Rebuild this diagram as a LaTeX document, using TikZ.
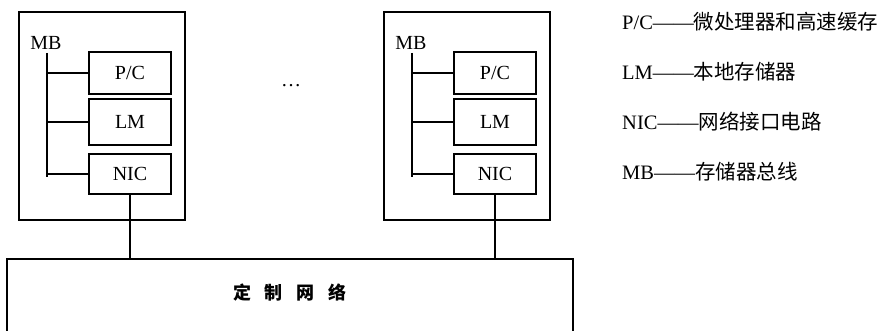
\documentclass[tikz,border=0pt]{standalone}
\usepackage{fontspec}
\setmainfont{Liberation Serif}
\newfontfamily\cjk{Noto Sans CJK SC}
\begin{document}
\begin{tikzpicture}[x=1pt,y=-1pt,
  ln/.style={line width=2pt},
  outerbox/.style={draw,ln,minimum width=166pt,minimum height=208pt,inner sep=0pt},
  unitbox/.style={draw,ln,minimum width=82pt,inner sep=0pt,font=\fontsize{20}{20}\selectfont},
  lbl/.style={inner sep=0pt,font=\fontsize{20}{20}\selectfont},
  legend/.style={anchor=west,inner sep=0pt,font=\fontsize{20.5}{20.5}\selectfont}]
\useasboundingbox (0,0) rectangle (885,331);
\clip (0,0) rectangle (885,331);
% network
\node[draw,ln,minimum width=566pt,minimum height=100pt,inner sep=0pt] (net) at (290,309) {};
\node[inner sep=0pt,font=\fontsize{18}{18}\selectfont\cjk\bfseries] (nettext) at (290,293) {定\hspace{14pt}制\hspace{14pt}网\hspace{14pt}络};
% units
\foreach \s/\n in {0/1,365/2}{
  \begin{scope}[xshift=\s pt]
    \node[outerbox] (outer\n) at (102,116) {};
    \node[unitbox,minimum height=42pt] (pc\n) at (130,73) {P/C};
    \node[unitbox,minimum height=46pt] (lm\n) at (130,122) {LM};
    \node[unitbox,minimum height=40pt] (nic\n) at (130,174) {NIC};
    \node[lbl] (mb\n) at (46,43) {MB};
    \coordinate (bustop\n) at (47,53);
    \coordinate (busbot\n) at (47,177);
  \end{scope}
  \draw[ln] (bustop\n) -- (busbot\n);
  \draw[ln] (pc\n.west -| bustop\n) -- (pc\n.west);
  \draw[ln] (lm\n.west -| bustop\n) -- (lm\n.west);
  \draw[ln] (nic\n.west -| bustop\n) -- (nic\n.west);
  \draw[ln] (nic\n.south) -- (nic\n.south |- net.north);
}
\node[lbl] (dots) at (291,86) {…};
% legend
\node[legend] (leg1) at (622,22) {P/C——{\cjk 微处理器和高速缓存}};
\node[legend] (leg2) at (622,72) {LM——{\cjk 本地存储器}};
\node[legend] (leg3) at (622,122) {NIC——{\cjk 网络接口电路}};
\node[legend] (leg4) at (622,172) {MB——{\cjk 存储器总线}};
\end{tikzpicture}
\end{document}
